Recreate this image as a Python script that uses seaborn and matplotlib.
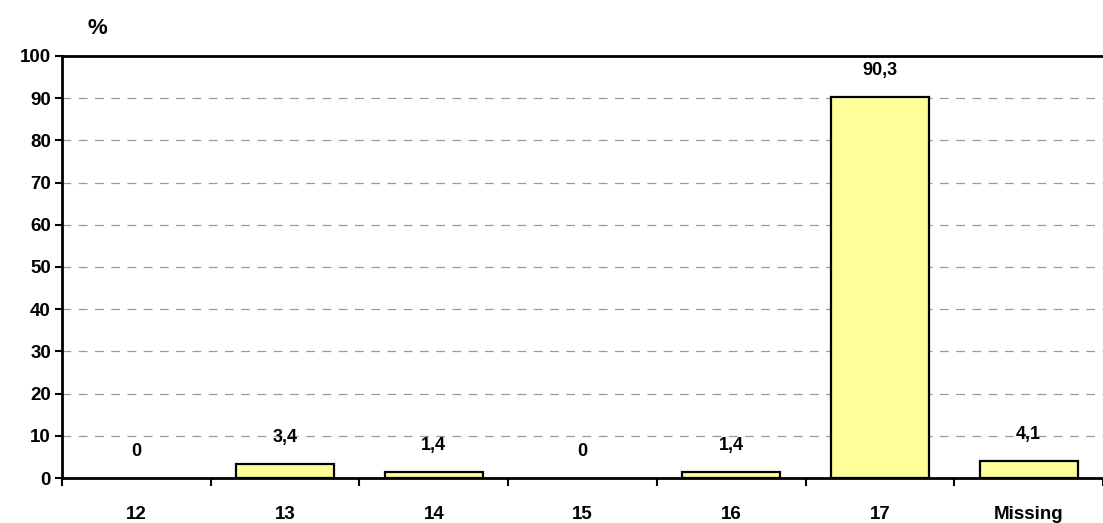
import matplotlib
matplotlib.use("Agg")
import matplotlib.pyplot as plt
import seaborn as sns
import pandas as pd

categories = ["12", "13", "14", "15", "16", "17", "Missing"]
values = [0, 3.4, 1.4, 0, 1.4, 90.3, 4.1]
value_labels = ["0", "3,4", "1,4", "0", "1,4", "90,3", "4,1"]
y_ticks = [0, 10, 20, 30, 40, 50, 60, 70, 80, 90, 100]

sns.set_theme(style="white")
plt.rcParams["font.family"] = ["Liberation Sans", "DejaVu Sans"]
plt.rcParams["text.color"] = "black"
plt.rcParams["xtick.color"] = "black"
plt.rcParams["ytick.color"] = "black"
plt.rcParams["xtick.labelcolor"] = "black"
plt.rcParams["ytick.labelcolor"] = "black"

df = pd.DataFrame({"category": categories, "value": values})

fig = plt.figure(figsize=(11.03, 5.23), dpi=100)
ax = fig.add_axes([0.0562, 0.086, 0.9438, 0.807])

sns.barplot(data=df, x="category", y="value", ax=ax, color="#FFFF99",
            edgecolor="black", linewidth=1.6, width=0.66, saturation=1)

# empty categories get no visible outline
for patch, v in zip(ax.patches, values):
    if v == 0:
        patch.set_visible(False)

ax.set_ylim(0, 100)
ax.set_xlim(-0.5, len(categories) - 0.5)
ax.set_yticks(y_ticks)
ax.set_yticklabels([str(t) for t in y_ticks], fontsize=13.5, fontweight="bold")
ax.set_xticks(range(len(categories)))
ax.set_xticklabels(categories, fontsize=13.5, fontweight="bold")
ax.set_xticks([i - 0.5 for i in range(len(categories) + 1)], minor=True)
ax.tick_params(axis="x", which="major", bottom=False, length=0, pad=20)
ax.tick_params(axis="x", which="minor", bottom=True, length=6, width=1.5,
               color="black", direction="out")
ax.tick_params(axis="y", left=True, length=5, width=1.5, color="black",
               direction="out", pad=3)

for y in y_ticks[1:-1]:
    ax.axhline(y, color="#9a9a9a", linestyle=(0, (7, 6)), linewidth=0.9, zorder=0)

for side in ["left", "bottom", "top"]:
    ax.spines[side].set_visible(True)
    ax.spines[side].set_color("black")
    ax.spines[side].set_linewidth(2)
ax.spines["right"].set_visible(False)

ax.set_xlabel("")
ax.set_ylabel("")

for i, (v, lab) in enumerate(zip(values, value_labels)):
    ax.annotate(lab, (i, v), xytext=(0, 19), textcoords="offset points",
                ha="center", va="center", fontsize=13, fontweight="bold",
                color="black")

fig.text(0.088, 0.945, "%", fontsize=16, fontweight="bold", ha="center",
         va="center", color="black")

fig.savefig("out.png", dpi=100)
